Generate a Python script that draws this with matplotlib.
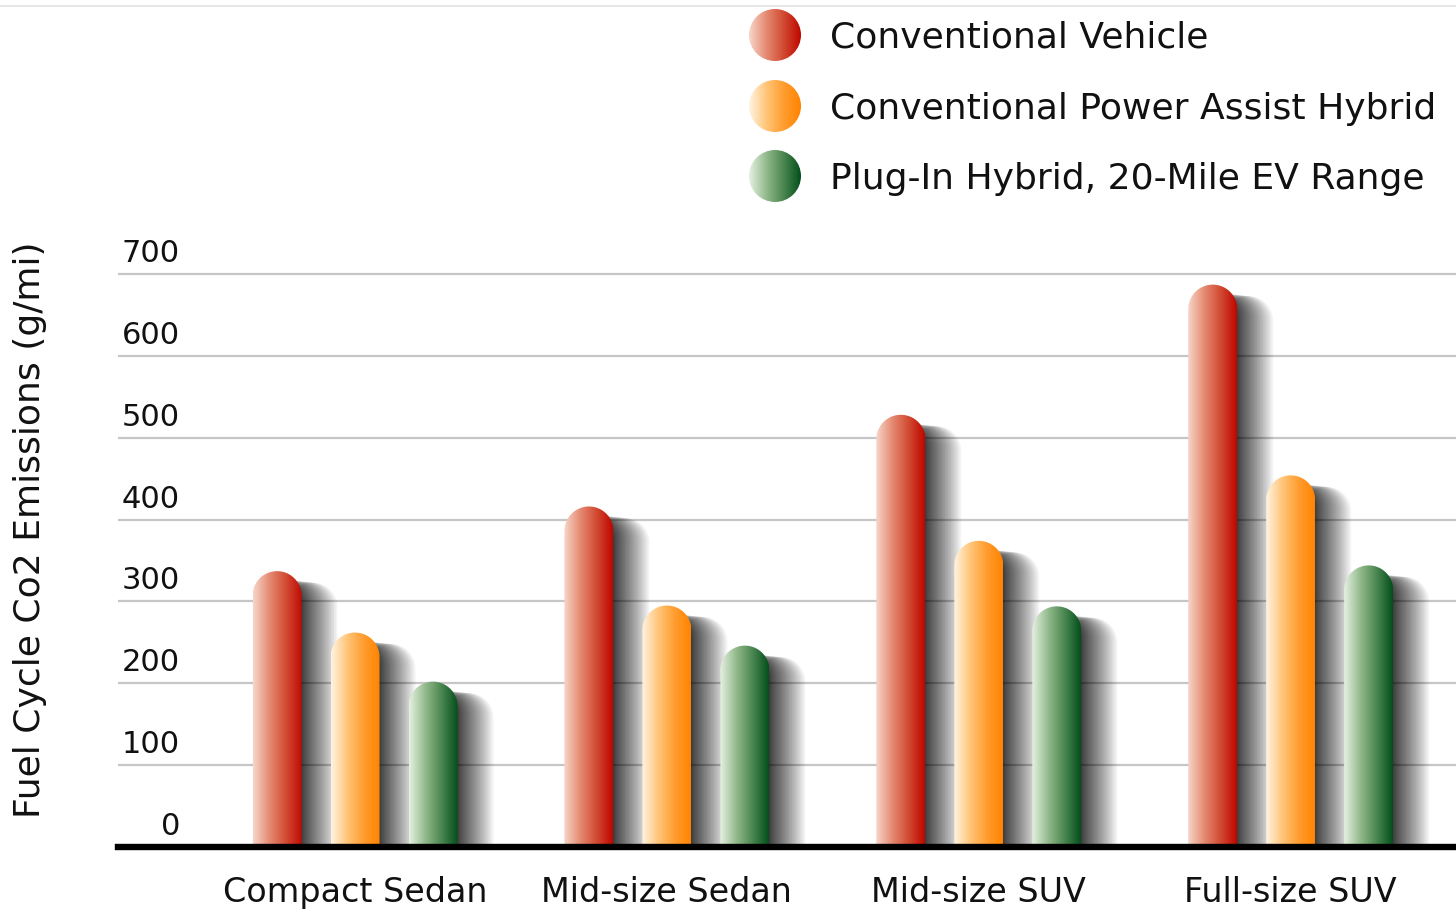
import numpy as np
import matplotlib
matplotlib.use("Agg")
import matplotlib.pyplot as plt
from matplotlib.colors import LinearSegmentedColormap
from matplotlib.patches import PathPatch, Circle
from matplotlib.path import Path

# data
categories = ["Compact Sedan", "Mid-size Sedan", "Mid-size SUV", "Full-size SUV"]
series = ["Conventional Vehicle", "Conventional Power Assist Hybrid",
          "Plug-In Hybrid, 20-Mile EV Range"]
conventional = [337, 416, 528, 687]
power_assist = [262, 295, 374, 454]
plug_in = [202, 246, 294, 344]
yticks = [0, 100, 200, 300, 400, 500, 600, 700]

# gradient colours, light at the left edge -> dark at the right
_GRADIENTS = [
    ["#f7d6ca", "#e58a72", "#d24a32", "#bf0600"],
    ["#fff4e2", "#ffc578", "#ff9d30", "#ff8300"],
    ["#e6f1e2", "#93ba8c", "#4a8650", "#034f1c"],
]
cmaps = [LinearSegmentedColormap.from_list("g%d" % i, c) for i, c in enumerate(_GRADIENTS)]
grad = np.linspace(0, 1, 256)[np.newaxis, :]

plt.rcParams["font.family"] = ["DejaVu Sans"]

W, H = 1456, 920
fig = plt.figure(figsize=(W / 100, H / 100), dpi=100)
fig.patch.set_facecolor("white")

# axes placed in pixel terms: left edge 118px, baseline at y=848px
ymax = 720
px_per_unit = 81.86 / 100
ax_h = ymax * px_per_unit
ax = fig.add_axes([118 / W, (H - 848) / H, (W - 118) / W, ax_h / H])
xmin, xmax = -0.76, 3.53
ax.set_xlim(xmin, xmax)
ax.set_ylim(0, ymax)
for s in ax.spines.values():
    s.set_visible(False)
ax.set_yticks(yticks[1:])
ax.yaxis.grid(True, color="#c6c6c6", linewidth=1.6)
ax.set_axisbelow(True)
ax.tick_params(axis="y", length=0, labelleft=False)
ax.axhline(0, color="black", linewidth=4.6, zorder=5, clip_on=False)

# y tick labels sit above the grid lines, inside the plot
for v in yticks:
    ax.annotate(str(v), xy=(0.0463, v), xycoords=("axes fraction", "data"),
                xytext=(0, 5), textcoords="offset points",
                ha="right", va="bottom", fontsize=22, color="#111111")

groups = np.arange(len(categories))
ax.set_xticks(groups)
ax.set_xticklabels(categories, fontsize=24, color="#111111")
ax.tick_params(axis="x", length=0, pad=20)

xpx = (W - 118) / (xmax - xmin)   # pixels per x unit
ypx = ax_h / ymax                 # pixels per y unit
bar_w = 49 / xpx
offsets = [-0.25, 0.0, 0.25]


def capsule(x0, w, top, dx=0.0, dy=0.0):
    """Bar outline with a round top (round in pixel space)."""
    rx = w / 2
    ry = rx * xpx / ypx
    t = np.linspace(np.pi, 0, 40)
    xs = [x0 + dx, x0 + dx] + list(x0 + dx + rx + rx * np.cos(t)) + [x0 + dx + w, x0 + dx + w]
    ys = [0, top - ry + dy] + list(top - ry + dy + ry * np.sin(t)) + [top - ry + dy, 0]
    verts = list(zip(xs, ys)) + [(x0 + dx, 0)]
    codes = [Path.MOVETO] + [Path.LINETO] * (len(verts) - 2) + [Path.CLOSEPOLY]
    return Path(verts, codes)


# shadow: many faint copies, packed closer near the bar edge
n_sh = 30
sh_off = 36 * (np.arange(1, n_sh + 1) / n_sh) ** 1.5

for i, vals in enumerate([conventional, power_assist, plug_in]):
    for g, v in zip(groups, vals):
        x0 = g + offsets[i] - bar_w / 2
        for d in sh_off:
            sh = PathPatch(capsule(x0, bar_w, v, dx=d / xpx, dy=-(8 + 0.1 * d) / ypx),
                           facecolor="black", edgecolor="none", alpha=0.045, zorder=2)
            ax.add_patch(sh)
        patch = PathPatch(capsule(x0, bar_w, v), facecolor="none", edgecolor="none", zorder=3)
        ax.add_patch(patch)
        im = ax.imshow(grad, extent=(x0, x0 + bar_w, 0, v), cmap=cmaps[i],
                       aspect="auto", zorder=3, interpolation="bilinear")
        im.set_clip_path(patch)

ax.set_xlim(xmin, xmax)
ax.set_ylim(0, ymax)

fig.text(30 / W, 1 - 530 / H, "Fuel Cycle Co2 Emissions (g/mi)", rotation=90,
         ha="center", va="center", fontsize=26, color="#111111")

# legend drawn in pixel coordinates on an overlay
lax = fig.add_axes([0, 0, 1, 1])
lax.set_xlim(0, W)
lax.set_ylim(H, 0)
lax.axis("off")
lax.plot([0, W], [7, 7], color="#e2e2e2", linewidth=1.2)
for i, (name, yc) in enumerate(zip(series, [36, 107, 177])):
    c = Circle((775, yc), 26, facecolor="none", edgecolor="none")
    lax.add_patch(c)
    im = lax.imshow(grad, extent=(749, 801, yc + 26, yc - 26), cmap=cmaps[i],
                    aspect="auto", interpolation="bilinear")
    im.set_clip_path(c)
    lax.text(830, yc + 2, name, fontsize=26, va="center", ha="left", color="#111111")
lax.set_xlim(0, W)
lax.set_ylim(H, 0)

fig.savefig("out.png", dpi=100)
